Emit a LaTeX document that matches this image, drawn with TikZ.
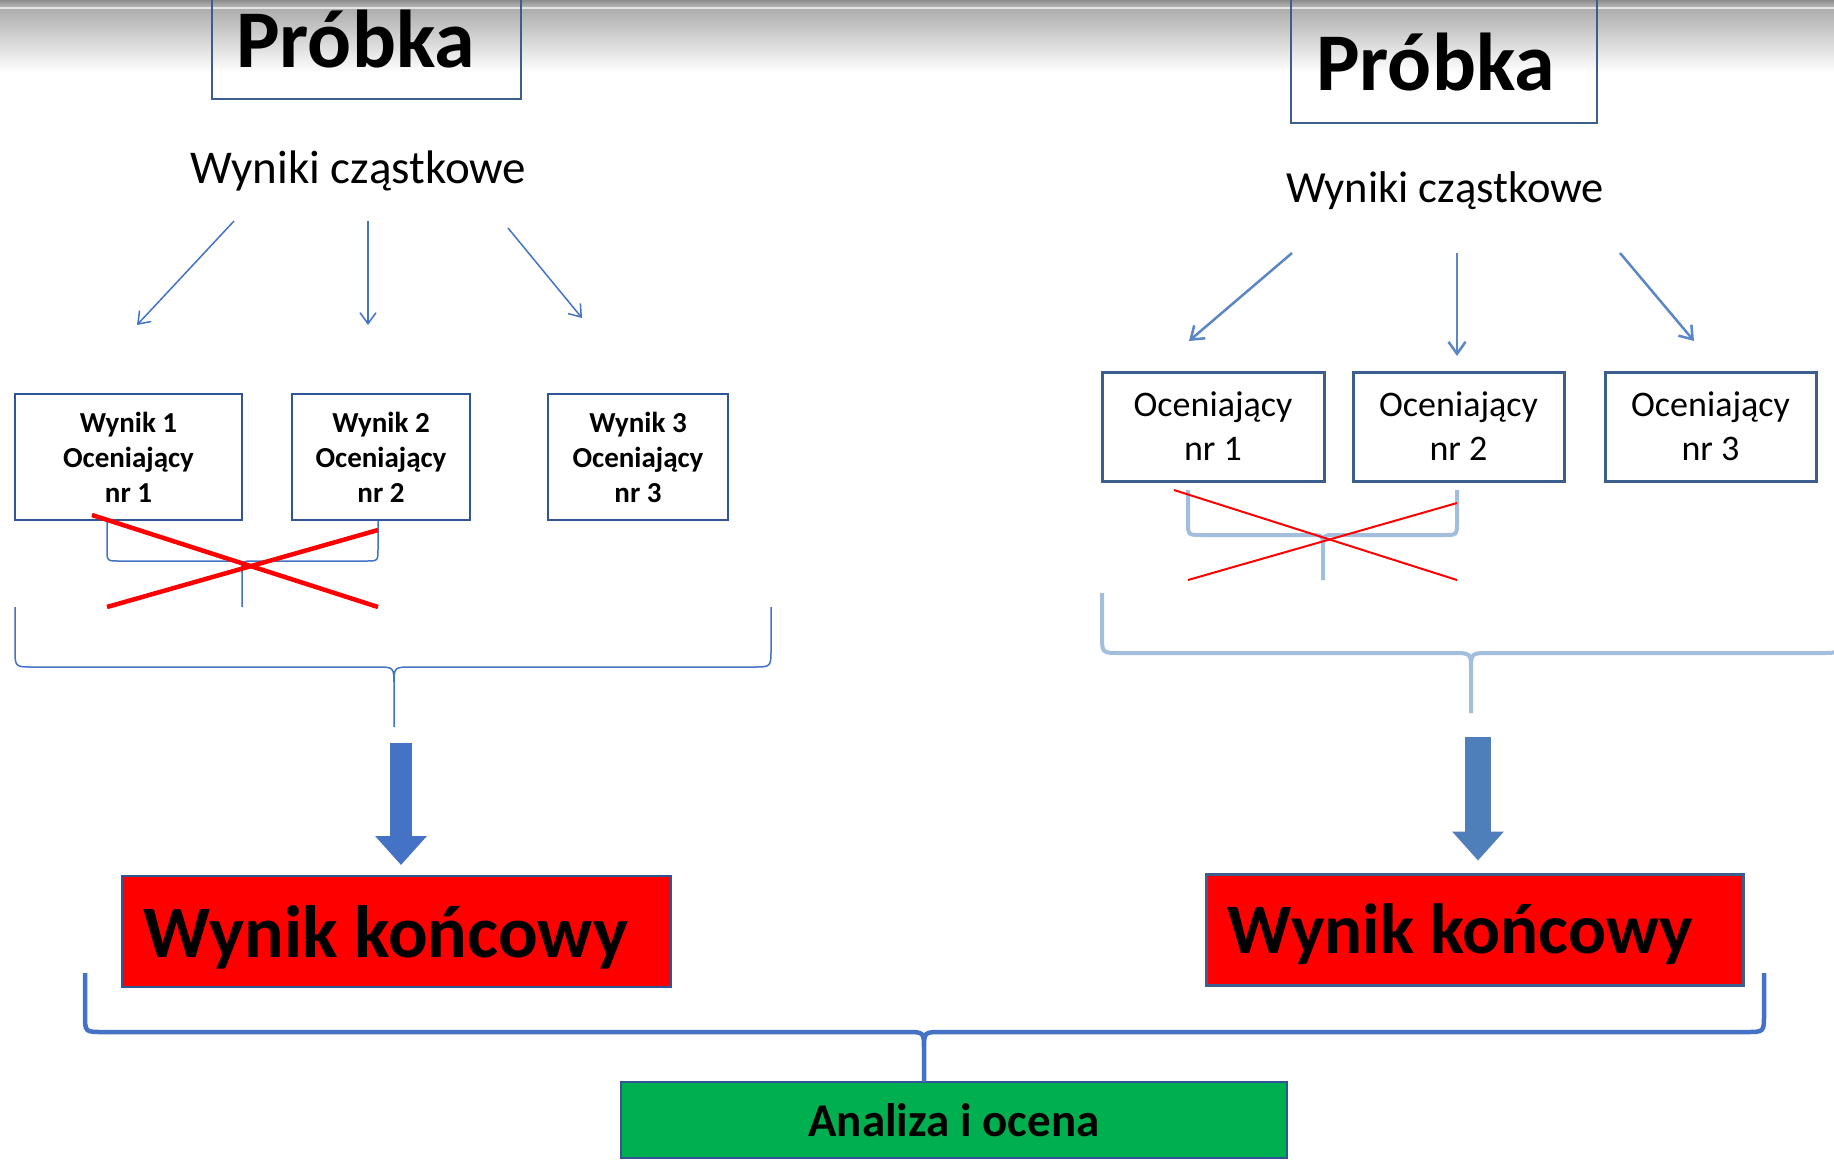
\documentclass[tikz,border=0pt]{standalone}
\usepackage{fontspec}
\setmainfont{Carlito}
\usetikzlibrary{arrows.meta,positioning,calc}

\definecolor{niebieski}{HTML}{4472C4}
\definecolor{ciemny}{HTML}{2F5597}
\definecolor{stalowy}{HTML}{3B5E8C}
\definecolor{jasny}{HTML}{A3BDDD}
\definecolor{strzalka}{HTML}{5B87C5}
\definecolor{gruby}{HTML}{4F7FBB}
\definecolor{zielony}{HTML}{00B050}

% klamra: styl, lewy x, prawy x, gora y, poziom y, srodek x, czubek y
\newcommand{\klamra}[7]{%
  \pgfmathsetmacro{\klr}{0.3*(#5-#4)}%
  \draw[#1] (#2,#4) -- (#2,#5-\klr) .. controls (#2,#5) .. (#2+\klr,#5)
    -- (#6-\klr,#5) .. controls (#6,#5) .. (#6,#5+\klr) -- (#6,#7)
    (#6,#5+\klr) .. controls (#6,#5) .. (#6+\klr,#5)
    -- (#3-\klr,#5) .. controls (#3,#5) .. (#3,#5-\klr) -- (#3,#4);}

\begin{document}
\begin{tikzpicture}[x=1pt,y=-1pt,
  ramka/.style={draw=stalowy,line width=2.5pt,inner sep=0pt},
  tytul/.style={font=\bfseries\fontsize{82}{90}\selectfont,anchor=base,inner sep=0pt},
  podtyt/.style={anchor=base,inner sep=0pt},
  wynik/.style={draw=ciemny,line width=2pt,fill=white,align=center,minimum height=126pt,inner sep=0pt,font=\bfseries\fontsize{29}{35}\selectfont},
  ocen/.style={draw=stalowy,line width=3pt,fill=white,align=center,minimum height=109pt,inner sep=0pt,font=\fontsize{36}{44}\selectfont},
  koniec/.style={draw=ciemny,line width=2pt,fill=red,minimum height=111pt,inner sep=0pt,text depth=0pt,font=\bfseries},
  cienka/.style={niebieski,line width=1.5pt,-{Straight Barb[length=11pt,width=16pt]}},
  cienkaR/.style={strzalka,line width=2.5pt,-{Straight Barb[length=12pt,width=17pt]}},
  krzyz/.style={red,line width=4.5pt},
  gruba/.style={line width=#1,-{Triangle[length=29pt,width=50pt]}}]
\useasboundingbox (0,0) rectangle (1834,1160);
\clip (0,0) rectangle (1834,1160);
\fill[white] (0,0) rectangle (1834,1160);
% pasek u gory
\shade[top color=black!45,bottom color=black!28] (0,0) rectangle (1834,7);
\fill[black!10] (0,7) rectangle (1834,9);
\shade[top color=black!32,bottom color=white] (0,9) rectangle (1834,72);

% lewa strona
\node[ramka,minimum width=309pt,minimum height=109pt] (probL) at (366.5,44.5) {};
\node[tytul] (probLt) at (355.5,67) {Próbka};
\node[podtyt,font=\fontsize{47}{52}\selectfont] (wynL) at (358.5,183) {Wyniki cząstkowe};
\foreach \n/\p/\q in {1/{234,221}/{137,325},2/{368,221}/{368,325},3/{508,228}/{582,318}}{
  \coordinate (a\n) at (\p);
  \coordinate (b\n) at (\q);
  \draw[cienka] (a\n) -- (b\n);
}
\node[wynik,minimum width=227pt] (w1) at (128.5,457) {Wynik 1\\Oceniający\\nr 1};
\node[wynik,minimum width=178pt] (w2) at (381,457) {Wynik 2\\Oceniający\\nr 2};
\node[wynik,minimum width=180pt] (w3) at (638,457) {Wynik 3\\Oceniający\\nr 3};
\klamra{niebieski,line width=1.5pt}{107}{378}{521}{561}{242}{607}
\draw[krzyz] (92,515) -- (378,607);
\draw[krzyz] (107,607) -- (378,530);
\klamra{niebieski,line width=1.5pt}{15}{771}{607}{667}{394}{727}
\node[koniec,minimum width=549pt,text height=52pt,font=\bfseries\fontsize{74}{80}\selectfont] (koncL) at (396.5,931.5) {\hspace*{-21pt}Wynik końcowy};
\coordinate (sL) at (401,743);
\draw[gruba=22pt,niebieski,shorten >=10pt] (sL) -- (sL |- koncL.north);

% prawa strona
\node[ramka,minimum width=306pt,minimum height=133pt] (probR) at (1444,56.5) {};
\node[tytul] (probRt) at (1435.5,90) {Próbka};
\node[podtyt,font=\fontsize{44.5}{50}\selectfont] (wynR) at (1445,202) {Wyniki cząstkowe};
\foreach \n/\p/\q in {4/{1292,253}/{1189,341},5/{1457,253}/{1457,356},6/{1620,253}/{1694,341}}{
  \coordinate (a\n) at (\p);
  \coordinate (b\n) at (\q);
  \draw[cienkaR] (a\n) -- (b\n);
}
\node[ocen,minimum width=222pt] (o1) at (1213,426.5) {Oceniający\\nr 1};
\node[ocen,minimum width=211pt] (o2) at (1458.5,426.5) {Oceniający\\nr 2};
\node[ocen,minimum width=211pt] (o3) at (1710.5,426.5) {Oceniający\\nr 3};
\klamra{jasny,line width=4pt}{1188}{1457}{490}{535}{1323}{580}
\draw[red,line width=2pt] (1174,490) -- (1457,580);
\draw[red,line width=2pt] (1188,580) -- (1457,503);
\klamra{jasny,line width=4pt}{1102}{1840}{593}{653}{1471}{713}
\node[koniec,draw=stalowy,line width=3pt,minimum width=537pt,text height=48pt,font=\bfseries\fontsize{71}{78}\selectfont] (koncR) at (1474.5,929.5) {\hspace*{-28pt}Wynik końcowy};
\coordinate (sR) at (1478,737);
\draw[gruba=26pt,gruby,shorten >=12pt] (sR) -- (sR |- koncR.north);

% dol
\node[draw=ciemny,line width=2pt,fill=zielony,minimum width=666pt,minimum height=76pt,inner sep=0pt,text height=32pt,text depth=0pt,font=\bfseries\fontsize{47}{52}\selectfont] (anal) at (954,1120) {Analiza i ocena};
\klamra{niebieski,line width=4.5pt}{85}{1764}{973}{1032}{924}{1082}
\end{tikzpicture}
\end{document}
